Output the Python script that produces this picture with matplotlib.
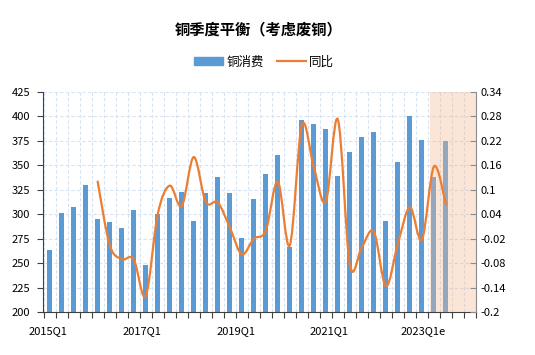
import numpy as np
import matplotlib
matplotlib.use('Agg')
import matplotlib.pyplot as plt
from matplotlib.path import Path
from matplotlib.patches import PathPatch, Patch
from matplotlib.lines import Line2D

plt.rcParams['font.family'] = ['Noto Sans CJK SC', 'DejaVu Sans']

years = range(2015, 2024)
quarters = [f'{y}Q{q}' for y in years for q in range(1, 5)]
quarters = [q + 'e' if q >= '2023' else q for q in quarters]

consumption = [264, 301, 307, 330, 295, 292, 286, 304, 248, 300, 317, 323,
               293, 322, 338, 322, 276, 316, 341, 360, 267, 396, 392, 387,
               339, 364, 379, 384, 293, 353, 400, 376, 338, 375]

# yoy starts at 2016Q1
yoy = [0.12, -0.035, -0.07, -0.07, -0.16, 0.04, 0.11, 0.06, 0.18, 0.07,
       0.069, 0.008, -0.058, -0.02, 0.0, 0.12, -0.036, 0.258, 0.155, 0.071,
       0.272, -0.084, -0.04, -0.003, -0.136, -0.031, 0.057, -0.022, 0.157, 0.064]
yoy_start = 4
estimate_start = 32

label_every = 8

left_ticks = list(range(200, 426, 25))
right_ticks = [-0.2, -0.14, -0.08, -0.02, 0.04, 0.1, 0.16, 0.22, 0.28, 0.34]

blue = '#5B9BD5'
orange = '#ED7D31'


def smooth_path(xs, ys):
    # excel-style smoothed line as cubic bezier segments
    pts = np.column_stack([xs, ys])
    verts = [pts[0]]
    codes = [Path.MOVETO]
    n = len(pts)
    for i in range(n - 1):
        p0 = pts[i - 1] if i > 0 else pts[i]
        p1 = pts[i]
        p2 = pts[i + 1]
        p3 = pts[i + 2] if i + 2 < n else pts[i + 1]
        c1 = p1 + (p2 - p0) / 6
        c2 = p2 - (p3 - p1) / 6
        verts += [c1, c2, p2]
        codes += [Path.CURVE4] * 3
    return Path(verts, codes)


fig = plt.figure(figsize=(5.35, 3.55), dpi=100)
ax = fig.add_axes([0.0804, 0.1203, 0.8093, 0.6214])

x = np.arange(len(consumption))
ax.bar(x, consumption, width=0.42, color=blue, zorder=2)
ax.set_ylim(200, 425)
ax.set_xlim(-0.55, len(quarters) - 0.5)
ax.set_yticks(left_ticks)

ax.xaxis.remove_overlapping_locs = False
ax.set_xticks(np.arange(-0.5, len(quarters), 1))
ax.set_xticklabels([])
lab_idx = np.arange(0, len(quarters), label_every)
ax.set_xticks(lab_idx * 0.975 - 0.1, minor=True)
ax.set_xticklabels([quarters[i] for i in lab_idx], minor=True)
ax.tick_params(axis='x', which='minor', length=0, pad=10, labelsize=8)
ax.tick_params(axis='x', which='major', length=4, width=0.8, color='#404040')
ax.tick_params(axis='y', length=4, width=0.8, color='#404040', labelsize=8, pad=5)

ax.grid(True, which='major', color='#D5E3F4', linestyle=(0, (3, 2)), linewidth=0.8, zorder=0)
ax.set_axisbelow(True)
for s in ['top', 'right']:
    ax.spines[s].set_visible(False)
ax.spines['left'].set_color('#404040')
ax.spines['bottom'].set_color('#404040')

ax2 = ax.twinx()
ax2.set_ylim(-0.2, 0.34)
ax2.set_yticks(right_ticks)
ax2.set_yticklabels([f'{t:g}' for t in right_ticks])
ax2.tick_params(axis='y', direction='in', length=4, width=0.8, color='#8C8C8C', labelsize=8, pad=3)
for s in ['top', 'left', 'bottom']:
    ax2.spines[s].set_visible(False)
ax2.spines['right'].set_color('#8C8C8C')

ax2.axvspan(estimate_start - 0.36, len(quarters) - 0.5, color='#F4BB94', alpha=0.38, lw=0, zorder=1)

xs = np.arange(yoy_start, yoy_start + len(yoy))
ax2.add_patch(PathPatch(smooth_path(xs, yoy), fill=False, edgecolor=orange,
                        linewidth=1.6, capstyle='round', zorder=3))

fig.text(0.484, 0.917, '铜季度平衡（考虑废铜）', ha='center', va='center',
         fontsize=11, fontweight='bold')

handles = [Patch(color=blue), Line2D([], [], color=orange, linewidth=1.6)]
fig.legend(handles, ['铜消费', '同比'], loc='center', bbox_to_anchor=(0.494, 0.825),
           ncol=2, frameon=False, fontsize=9, handlelength=2.3, handletextpad=0.3,
           columnspacing=1.0, handleheight=0.6)

fig.savefig('out.png', dpi=100)
